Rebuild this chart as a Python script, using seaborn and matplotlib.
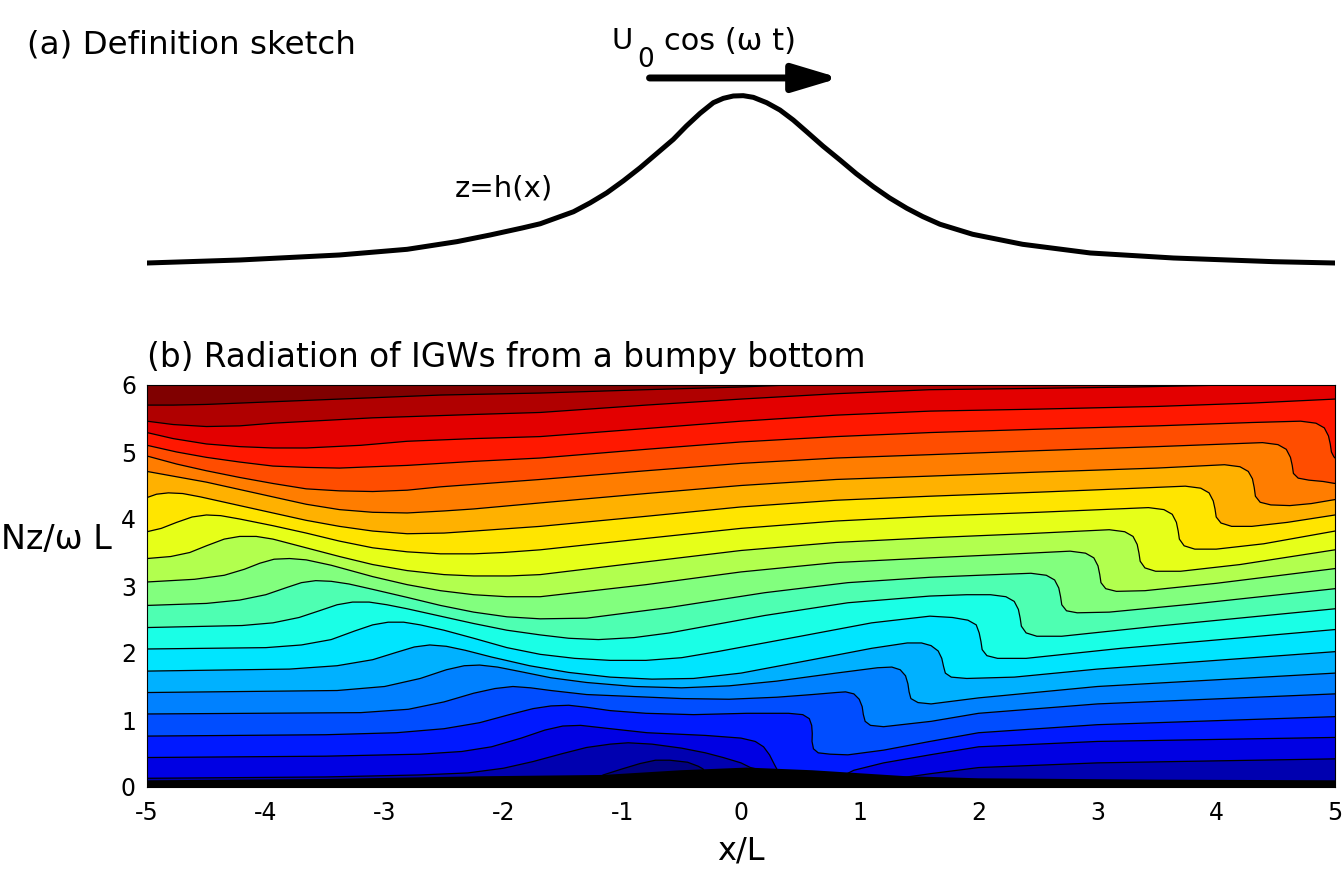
import matplotlib
matplotlib.use("Agg")
import matplotlib.pyplot as plt
from matplotlib.colors import LinearSegmentedColormap
import seaborn as sns

sns.set_style("white")
plt.rcParams['font.family'] = ['DejaVu Sans']
plt.rcParams['axes.unicode_minus'] = False
plt.rcParams['text.color'] = 'black'
plt.rcParams['xtick.color'] = 'black'
plt.rcParams['ytick.color'] = 'black'

# ---------------- data: panel (a) sketch ----------------
sketch_x = [-5.0, -4.22, -3.38, -2.81, -2.39, -2.11, -1.84, -1.69, -1.41, -1.27, -1.13, -0.99,
            -0.85, -0.71, -0.57, -0.46, -0.345, -0.233, -0.149, -0.065, 0.019, 0.104, 0.216,
            0.328, 0.44, 0.553, 0.69, 0.833, 0.97, 1.114, 1.25, 1.395, 1.53, 1.675, 1.95,
            2.37, 2.94, 3.64, 4.48, 5.0]
sketch_h = [0.0, 0.018, 0.048, 0.082, 0.128, 0.168, 0.210, 0.235, 0.307, 0.360, 0.420, 0.492,
            0.570, 0.655, 0.740, 0.820, 0.896, 0.960, 0.986, 1.0, 1.002, 0.992, 0.960,
            0.916, 0.856, 0.786, 0.700, 0.617, 0.535, 0.457, 0.390, 0.328, 0.278, 0.232, 0.172,
            0.112, 0.060, 0.030, 0.008, 0.0]

# ---------------- data: panel (b) topography ----------------
hill_x = [-5, -3.5, -2.2, -1.16, -0.51, 0.05, 0.6, 1.4, 2.0, 3.5, 5]
hill_z = [0.10, 0.12, 0.16, 0.18, 0.25, 0.29, 0.25, 0.16, 0.13, 0.11, 0.10]

# ---------------- data: panel (b) isopycnal contour lines (bottom to top) ----------------
c00_x = [-5, -1.3, -1.16, -1.0, -0.85, -0.72, -0.6, -0.45, -0.36, -0.32, -0.25, 5]
c00_z = [0.02, 0.04, 0.18, 0.27, 0.35, 0.40, 0.40, 0.37, 0.31, 0.27, 0.05, 0.02]
c01_x = [-5, -3.5, -2.7, -2.3, -2.0, -1.75, -1.5, -1.3, -1.1, -0.95, -0.75, -0.5, -0.3, -0.15,
         0.0, 0.08, 0.3, 0.8, 1.2, 1.4, 1.6, 2.0, 3.0, 5]
c01_z = [0.13, 0.15, 0.18, 0.21, 0.28, 0.38, 0.50, 0.59, 0.64, 0.66, 0.64, 0.58, 0.51, 0.44,
         0.36, 0.29, 0.20, 0.15, 0.12, 0.15, 0.20, 0.29, 0.36, 0.42]
c02_x = [-5, -3.5, -2.7, -2.35, -2.1, -1.85, -1.65, -1.5, -1.35, -1.15, -0.79, -0.3, 0.0, 0.12,
         0.19, 0.24, 0.28, 0.31, 0.6, 0.86, 0.95, 1.2, 1.59, 2.0, 3.0, 5]
c02_z = [0.44, 0.46, 0.49, 0.53, 0.60, 0.73, 0.85, 0.91, 0.92, 0.88, 0.81, 0.77, 0.73, 0.68,
         0.60, 0.48, 0.34, 0.24, 0.20, 0.17, 0.25, 0.36, 0.48, 0.60, 0.68, 0.74]
c03_x = [-5, -3.5, -2.9, -2.5, -2.2, -1.95, -1.75, -1.6, -1.45, -1.3, -1.1, -0.8, -0.4, 0.05,
         0.40, 0.52, 0.575, 0.595, 0.60, 0.598, 0.61, 0.65, 0.75, 0.9, 1.2, 1.59, 2.0, 3.0, 5]
c03_z = [0.76, 0.78, 0.81, 0.87, 0.96, 1.08, 1.17, 1.21, 1.22, 1.19, 1.14, 1.10, 1.08, 1.10,
         1.10, 1.08, 1.02, 0.92, 0.80, 0.68, 0.57, 0.51, 0.49, 0.48, 0.55, 0.68, 0.81, 0.93, 1.05]
c04_x = [-5, -3.2, -2.8, -2.5, -2.25, -2.07, -1.92, -1.77, -1.6, -1.3, -0.9, -0.5, -0.1, 0.3,
         0.6, 0.8, 0.88, 0.95, 0.995, 1.02, 1.03, 1.045, 1.09, 1.2, 1.6, 2.0, 3.0, 5]
c04_z = [1.09, 1.11, 1.16, 1.27, 1.40, 1.47, 1.50, 1.48, 1.44, 1.38, 1.35, 1.32, 1.31, 1.34,
         1.38, 1.41, 1.42, 1.39, 1.31, 1.20, 1.08, 0.98, 0.92, 0.90, 0.98, 1.10, 1.24, 1.39]
c05_x = [-5, -3.4, -3.0, -2.7, -2.48, -2.33, -2.2, -2.05, -1.85, -1.6, -1.3, -0.9, -0.5, -0.1,
         0.3, 0.8, 1.15, 1.27, 1.34, 1.385, 1.405, 1.415, 1.43, 1.49, 1.6, 2.0, 3.0, 5]
c05_z = [1.41, 1.44, 1.50, 1.62, 1.75, 1.81, 1.82, 1.79, 1.72, 1.63, 1.56, 1.50, 1.48, 1.51,
         1.58, 1.70, 1.78, 1.79, 1.75, 1.66, 1.54, 1.42, 1.32, 1.26, 1.24, 1.33, 1.50, 1.70]
c06_x = [-5, -3.8, -3.4, -3.1, -2.9, -2.75, -2.62, -2.48, -2.32, -2.1, -1.78, -1.45, -1.1,
         -0.75, -0.4, 0.0, 0.6, 1.1, 1.40, 1.52, 1.60, 1.66, 1.69, 1.705, 1.72, 1.77, 1.90,
         2.3, 3.0, 5]
c06_z = [1.73, 1.76, 1.81, 1.90, 2.01, 2.09, 2.12, 2.10, 2.04, 1.94, 1.81, 1.71, 1.64,
         1.61, 1.62, 1.70, 1.90, 2.07, 2.15, 2.15, 2.11, 2.03, 1.92, 1.80, 1.70, 1.64, 1.62,
         1.64, 1.76, 2.02]
c07_x = [-5, -4.0, -3.7, -3.45, -3.25, -3.1, -2.97, -2.84, -2.7, -2.5, -2.25, -1.97, -1.69,
         -1.4, -1.1, -0.8, -0.5, -0.2, 0.5, 1.1, 1.59, 1.78, 1.91, 1.98, 2.005, 2.02, 2.03,
         2.07, 2.16, 2.4, 3.2, 5]
c07_z = [2.06, 2.08, 2.12, 2.20, 2.33, 2.42, 2.46, 2.46, 2.42, 2.34, 2.22, 2.08, 1.98,
         1.92, 1.89, 1.89, 1.93, 2.02, 2.25, 2.45, 2.55, 2.53, 2.49, 2.42, 2.30, 2.17, 2.05,
         1.96, 1.92, 1.92, 2.07, 2.35]
c08_x = [-5, -4.2, -3.94, -3.72, -3.55, -3.4, -3.27, -3.13, -2.98, -2.81, -2.53, -2.25, -1.97,
         -1.69, -1.45, -1.2, -0.9, -0.6, 0.2, 0.9, 1.59, 1.9, 2.10, 2.23, 2.30, 2.335, 2.35,
         2.36, 2.40, 2.49, 2.7, 3.5, 5]
c08_z = [2.38, 2.41, 2.45, 2.53, 2.63, 2.72, 2.76, 2.76, 2.72, 2.66, 2.55, 2.44, 2.34,
         2.27, 2.22, 2.20, 2.23, 2.30, 2.56, 2.75, 2.85, 2.87, 2.87, 2.84, 2.77, 2.65, 2.52,
         2.40, 2.30, 2.25, 2.25, 2.40, 2.66]
c09_x = [-5, -4.5, -4.22, -4.0, -3.82, -3.7, -3.58, -3.45, -3.3, -3.1, -2.81, -2.53, -2.25,
         -1.97, -1.69, -1.3, -0.6, 0.2, 0.9, 1.59, 2.0, 2.44, 2.57, 2.64, 2.675, 2.69, 2.70,
         2.74, 2.83, 3.1, 3.8, 5]
c09_z = [2.71, 2.74, 2.79, 2.87, 2.98, 3.05, 3.08, 3.07, 3.03, 2.95, 2.83, 2.71, 2.61,
         2.54, 2.51, 2.52, 2.68, 2.90, 3.05, 3.13, 3.16, 3.19, 3.16, 3.09, 2.97, 2.84, 2.72,
         2.63, 2.60, 2.61, 2.73, 2.96]
c10_x = [-5, -4.6, -4.35, -4.18, -4.05, -3.93, -3.8, -3.66, -3.45, -3.1, -2.81, -2.53, -2.25,
         -1.97, -1.69, -0.8, 0.0, 0.8, 1.59, 2.2, 2.77, 2.90, 2.97, 3.005, 3.02, 3.03, 3.07,
         3.16, 3.4, 4.0, 5]
c10_z = [3.06, 3.10, 3.16, 3.25, 3.34, 3.40, 3.41, 3.39, 3.31, 3.14, 3.02, 2.93, 2.87,
         2.84, 2.84, 3.02, 3.21, 3.35, 3.42, 3.47, 3.52, 3.49, 3.42, 3.30, 3.17, 3.05, 2.96,
         2.92, 2.93, 3.04, 3.26]
c11_x = [-5, -4.8, -4.64, -4.5, -4.35, -4.22, -4.08, -3.94, -3.66, -3.38, -3.1, -2.81, -2.5,
         -2.25, -1.95, -1.69, -0.8, 0.0, 0.8, 1.59, 2.4, 3.10, 3.23, 3.30, 3.335, 3.35, 3.36,
         3.40, 3.49, 3.7, 4.2, 5]
c11_z = [3.41, 3.44, 3.50, 3.60, 3.70, 3.74, 3.74, 3.70, 3.57, 3.44, 3.32, 3.23, 3.17,
         3.15, 3.15, 3.17, 3.36, 3.53, 3.65, 3.72, 3.78, 3.84, 3.81, 3.74, 3.62, 3.49, 3.37,
         3.27, 3.22, 3.22, 3.32, 3.54]
c12_x = [-5, -4.88, -4.75, -4.62, -4.5, -4.38, -4.22, -3.94, -3.66, -3.38, -3.1, -2.81, -2.53,
         -2.25, -2.0, -1.69, -0.8, 0.0, 0.8, 1.59, 2.5, 3.43, 3.56, 3.63, 3.665, 3.68, 3.69,
         3.73, 3.82, 4.0, 4.4, 5]
c12_z = [3.81, 3.86, 3.95, 4.03, 4.06, 4.05, 4.00, 3.90, 3.79, 3.67, 3.57, 3.51, 3.48,
         3.48, 3.50, 3.54, 3.71, 3.86, 3.97, 4.04, 4.10, 4.17, 4.14, 4.07, 3.95, 3.82, 3.70,
         3.60, 3.55, 3.55, 3.63, 3.82]
c13_x = [-5, -4.92, -4.82, -4.7, -4.55, -4.22, -3.94, -3.66, -3.38, -3.1, -2.81, -2.5, -2.25,
         -1.69, -0.8, 0.0, 0.8, 1.59, 2.5, 3.2, 3.74, 3.87, 3.94, 3.975, 3.99, 4.00, 4.04,
         4.13, 4.3, 4.6, 5]
c13_z = [4.32, 4.37, 4.39, 4.38, 4.33, 4.20, 4.09, 3.98, 3.89, 3.82, 3.78, 3.79, 3.82,
         3.89, 4.04, 4.18, 4.28, 4.34, 4.40, 4.45, 4.49, 4.46, 4.39, 4.27, 4.15, 4.03, 3.94,
         3.89, 3.89, 3.95, 4.06]
c14_x = [-5, -4.75, -4.5, -4.22, -3.94, -3.66, -3.38, -3.1, -2.81, -2.5, -2.25, -1.69, -0.8,
         0.0, 0.8, 1.59, 2.5, 3.5, 4.07, 4.20, 4.27, 4.305, 4.32, 4.33, 4.37, 4.46, 4.62,
         4.8, 5]
c14_z = [4.71, 4.63, 4.55, 4.44, 4.33, 4.22, 4.14, 4.10, 4.09, 4.12, 4.15, 4.24, 4.38,
         4.50, 4.59, 4.64, 4.70, 4.76, 4.81, 4.78, 4.71, 4.60, 4.47, 4.34, 4.25, 4.21, 4.20,
         4.23, 4.29]
c15_x = [-5, -4.75, -4.5, -4.22, -3.94, -3.66, -3.38, -3.1, -2.81, -2.53, -1.69, -0.8, 0.0,
         0.8, 1.59, 2.5, 3.5, 4.39, 4.52, 4.59, 4.625, 4.64, 4.65, 4.69, 4.78, 4.9, 5]
c15_z = [4.94, 4.82, 4.72, 4.62, 4.53, 4.45, 4.42, 4.41, 4.43, 4.48, 4.59, 4.72, 4.83,
         4.91, 4.96, 5.02, 5.08, 5.14, 5.11, 5.04, 4.92, 4.80, 4.68, 4.61, 4.58, 4.56, 4.53]
c16_x = [-5, -4.75, -4.5, -4.22, -3.94, -3.66, -3.38, -3.1, -2.81, -2.25, -1.69, -0.8, 0.0,
         0.8, 1.59, 2.5, 3.5, 4.3, 4.71, 4.84, 4.91, 4.945, 4.96, 4.97, 4.99, 5]
c16_z = [5.10, 5.00, 4.92, 4.85, 4.79, 4.77, 4.76, 4.78, 4.80, 4.86, 4.91, 5.04, 5.15,
         5.23, 5.29, 5.34, 5.39, 5.44, 5.46, 5.43, 5.36, 5.24, 5.12, 5.00, 4.93, 4.91]
c17_x = [-5, -4.78, -4.5, -4.22, -3.94, -3.66, -3.2, -2.81, -2.25, -1.69, -0.8, 0.0, 0.8,
         1.59, 2.5, 3.5, 4.3, 5]
c17_z = [5.29, 5.20, 5.12, 5.08, 5.06, 5.06, 5.10, 5.16, 5.20, 5.23, 5.35, 5.46, 5.55,
         5.61, 5.64, 5.68, 5.73, 5.79]
c18_x = [-5, -4.78, -4.5, -4.22, -3.94, -3.1, -2.25, -1.69, -0.8, 0.0, 0.8, 1.59, 2.5, 3.3,
         4.1, 5]
c18_z = [5.46, 5.41, 5.38, 5.39, 5.43, 5.51, 5.56, 5.59, 5.70, 5.79, 5.87, 5.93, 5.95, 5.97,
         6.0, 6.0]
c19_x = [-5, -4.78, -4.5, -4.22, -3.38, -2.53, -1.69, -0.8, 0.0, 0.4, 5]
c19_z = [5.70, 5.70, 5.71, 5.73, 5.79, 5.85, 5.88, 5.93, 5.97, 6.0, 6.0]

x_ticks = [-5, -4, -3, -2, -1, 0, 1, 2, 3, 4, 5]
z_ticks = [0, 1, 2, 3, 4, 5, 6]

contours = [(c00_x, c00_z), (c01_x, c01_z), (c02_x, c02_z), (c03_x, c03_z), (c04_x, c04_z),
            (c05_x, c05_z), (c06_x, c06_z), (c07_x, c07_z), (c08_x, c08_z), (c09_x, c09_z),
            (c10_x, c10_z), (c11_x, c11_z), (c12_x, c12_z), (c13_x, c13_z), (c14_x, c14_z),
            (c15_x, c15_z), (c16_x, c16_z), (c17_x, c17_z), (c18_x, c18_z), (c19_x, c19_z)]

# MATLAB-like jet colormap
mjet = LinearSegmentedColormap.from_list(
    "mjet", [(0.0, (0, 0, 0.5)), (0.125, (0, 0, 1)), (0.375, (0, 1, 1)),
             (0.625, (1, 1, 0)), (0.875, (1, 0, 0)), (1.0, (0.5, 0, 0))])
nb = len(contours) + 1
band_colors = [mjet(i / (nb - 1)) for i in range(nb)]

W, H = 1343, 873
fig = plt.figure(figsize=(W / 100, H / 100), dpi=100)


def fx(px):
    return px / W


def fy(py):
    return 1 - py / H


# ---------------- panel (b) ----------------
axb = fig.add_axes([fx(147), fy(787), (1335 - 147) / W, (787 - 385) / H])
axb.set_xlim(-5, 5)
axb.set_ylim(0, 6)
axb.fill([-5, 5, 5, -5], [0, 0, 6, 6], color=band_colors[-1], lw=0, zorder=1)
for k in range(len(contours) - 1, -1, -1):
    xs, zs = contours[k]
    axb.fill(list(xs) + [5, -5], list(zs) + [0, 0], color=band_colors[k], lw=0, zorder=1)
for xs, zs in contours:
    sns.lineplot(x=xs, y=zs, sort=False, estimator=None, color="black", lw=0.9, ax=axb, zorder=2)
axb.fill(list(hill_x) + [5, -5], list(hill_z) + [0, 0], color="black", lw=0, zorder=3)

axb.set_xticks(x_ticks)
axb.set_yticks(z_ticks)
axb.set_xticklabels([str(v) for v in x_ticks])
axb.set_yticklabels([str(v) for v in z_ticks])
axb.tick_params(length=0, labelsize=17, pad=8)
axb.tick_params(axis="x", pad=10)
for s in axb.spines.values():
    s.set_color("black")
    s.set_linewidth(0.8)
    s.set_zorder(5)
axb.set_xlabel("")
axb.set_ylabel("")

fig.text(fx(741), fy(851), "x/L", fontsize=23, ha="center", va="center")
fig.text(fx(56), fy(540), "Nz/\u03c9 L", fontsize=24, ha="center", va="center")
fig.text(fx(147), fy(357), "(b) Radiation of IGWs from a bumpy bottom", fontsize=23.6,
         ha="left", va="center")

# ---------------- panel (a) ----------------
axa = fig.add_axes([fx(147), fy(300), (1335 - 147) / W, (300 - 40) / H])
axa.set_xlim(-5, 5)
axa.set_ylim((263 - 300) / 167, (263 - 40) / 167)
axa.axis("off")
sns.lineplot(x=sketch_x, y=sketch_h, sort=False, estimator=None, color="black", lw=3.6, ax=axa)
axa.annotate("", xy=(0.83, 1.108), xytext=(-0.77, 1.108),
             arrowprops=dict(arrowstyle="-|>,head_length=1.4,head_width=0.42",
                             lw=5, color="black", mutation_scale=20,
                             shrinkA=0, shrinkB=0))

fig.text(fx(27), fy(45), "(a) Definition sketch", fontsize=23.4, ha="left", va="center")
fig.text(fx(611), fy(41), "U", fontsize=21, ha="left", va="center")
fig.text(fx(637), fy(60), "0", fontsize=19, ha="left", va="center")
fig.text(fx(664), fy(41), "cos (\u03c9 t)", fontsize=22, ha="left", va="center")
fig.text(fx(455), fy(188), "z=h(x)", fontsize=21, ha="left", va="center")

fig.savefig("out.png", dpi=100)
